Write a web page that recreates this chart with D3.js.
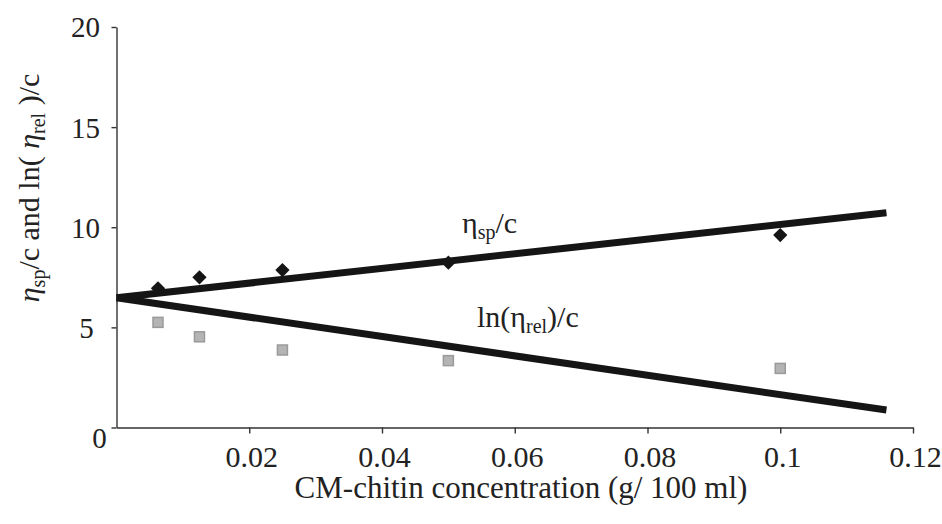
<!DOCTYPE html>
<html>
<head>
<meta charset="utf-8">
<script src="https://cdn.jsdelivr.net/npm/d3@7"></script>
<style>
  html, body { margin: 0; padding: 0; background: #fff; }
  svg { display: block; }
  text { font-family: "Liberation Serif", "Times New Roman", serif; fill: #222; }
</style>
</head>
<body>
<svg id="chart" width="942" height="524"></svg>
<script>
// ---- data ----
const xTickValues = [0.02, 0.04, 0.06, 0.08, 0.1, 0.12];
const xTickLabels = ["0.02", "0.04", "0.06", "0.08", "0.1", "0.12"];
const yTickValues = [0, 5, 10, 15, 20];
const yTickLabels = ["0", "5", "10", "15", "20"];
const concentration = [0.00625, 0.0125, 0.025, 0.05, 0.1];
const etaSpOverC = [6.95, 7.5, 7.86, 8.23, 9.61];
const lnEtaRelOverC = [5.25, 4.53, 3.87, 3.34, 2.95];
const trendX = [0, 0.116];
const trendSp = [6.48, 10.72];
const trendLn = [6.48, 0.87];

// ---- layout ----
(function () {
const svg = d3.select("#chart");
const pLeft = 116.5, pRight = 913, pTop = 27, pBottom = 427.5;
const x = d3.scaleLinear().domain([0, 0.12]).range([pLeft, pRight]);
const y = d3.scaleLinear().domain([0, 20]).range([pBottom, pTop]);

// axes
const xAxis = svg.append("g").attr("transform", `translate(0,${pBottom})`)
  .call(d3.axisBottom(x).tickValues(xTickValues).tickSize(6).tickSizeOuter(0)
    .tickFormat((d, i) => xTickLabels[i]));
const yAxis = svg.append("g").attr("transform", `translate(${pLeft},0)`)
  .call(d3.axisLeft(y).tickValues(yTickValues).tickSize(5).tickSizeOuter(0)
    .tickFormat((d, i) => yTickLabels[i]));

[xAxis, yAxis].forEach(g => {
  g.attr("font-family", "'Liberation Serif', serif");
  g.select(".domain").attr("stroke", "#333").attr("stroke-width", 1.4);
  g.selectAll(".tick line").attr("stroke", "#333").attr("stroke-width", 1.4);
  g.selectAll(".tick text").attr("font-family", "'Liberation Serif', serif")
    .attr("font-size", 29).attr("fill", "#222");
});
xAxis.selectAll(".tick text").attr("font-size", 30).attr("y", 39).attr("dy", 0).attr("dx", 2);
yAxis.selectAll(".tick text").attr("text-anchor", "middle").attr("x", -31).attr("dy", "0.34em");
yAxis.selectAll(".tick").filter(d => d === 0).select("text").attr("x", -17).attr("dy", "0.68em");
yAxis.selectAll(".tick").filter(d => d === 5).select("text").attr("x", -30);

// trend lines
const line = d3.line().x(d => x(d[0])).y(d => y(d[1]));
[trendSp, trendLn].forEach(t => {
  svg.append("path")
    .datum(trendX.map((xv, i) => [xv, t[i]]))
    .attr("d", line)
    .attr("fill", "none").attr("stroke", "#151515").attr("stroke-width", 7);
});

// diamonds
svg.append("g").selectAll("path")
  .data(concentration.map((c, i) => [c, etaSpOverC[i]]))
  .join("path")
  .attr("transform", d => `translate(${x(d[0])},${y(d[1])})`)
  .attr("d", d3.symbol(d3.symbolDiamond2, 130)())
  .attr("fill", "#151515");

// squares
svg.append("g").selectAll("rect")
  .data(concentration.map((c, i) => [c, lnEtaRelOverC[i]]))
  .join("rect")
  .attr("x", d => x(d[0]) - 5).attr("y", d => y(d[1]) - 5)
  .attr("width", 10).attr("height", 10)
  .attr("fill", "#b4b4b4").attr("stroke", "#9a9a9a").attr("stroke-width", 1.5);

// series labels
const lab1 = svg.append("text").attr("x", 462).attr("y", 233).attr("font-size", 30);
lab1.append("tspan").text("η");
lab1.append("tspan").attr("font-size", 20).attr("dy", 6).text("sp");
lab1.append("tspan").attr("dy", -6).text("/c");

const lab2 = svg.append("text").attr("x", 477).attr("y", 327).attr("font-size", 30);
lab2.append("tspan").text("ln(η");
lab2.append("tspan").attr("font-size", 20).attr("dy", 6).text("rel");
lab2.append("tspan").attr("dy", -6).text(")/c");

// axis titles
svg.append("text").attr("x", 521).attr("y", 498).attr("text-anchor", "middle")
  .attr("font-size", 31).text("CM-chitin concentration (g/ 100 ml)");

const yt = svg.append("text").attr("transform", "translate(39,188) rotate(-90)")
  .attr("text-anchor", "middle").attr("font-size", 30);
yt.append("tspan").attr("font-style", "italic").text("η");
yt.append("tspan").attr("font-size", 20).attr("dy", 6).text("sp");
yt.append("tspan").attr("dy", -6).text("/c and ln( ");
yt.append("tspan").attr("font-style", "italic").text("η");
yt.append("tspan").attr("font-size", 20).attr("dy", 6).text("rel");
yt.append("tspan").attr("dy", -6).text(" )/c");
})();
</script>
</body>
</html>
